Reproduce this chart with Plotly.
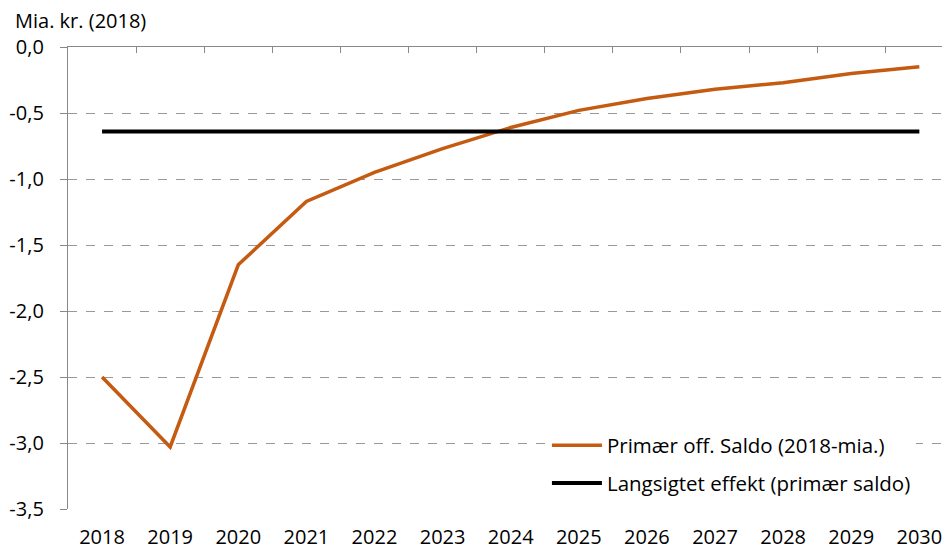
import plotly.graph_objects as go

years = [2018, 2019, 2020, 2021, 2022, 2023, 2024, 2025, 2026, 2027, 2028, 2029, 2030]
primaer_saldo = [-2.50, -3.03, -1.65, -1.17, -0.95, -0.77, -0.61, -0.48, -0.39, -0.32, -0.27, -0.20, -0.15]
langsigtet = [-0.64] * len(years)
y_ticks = [0.0, -0.5, -1.0, -1.5, -2.0, -2.5, -3.0, -3.5]
y_tick_labels = ["0,0", "-0,5", "-1,0", "-1,5", "-2,0", "-2,5", "-3,0", "-3,5"]
x_boundaries = [y + 0.5 for y in years[:-1]]

FONT = "Open Sans"
fig = go.Figure()
fig.add_trace(go.Scatter(x=years, y=primaer_saldo, mode="lines",
                         name="Primær off. Saldo (2018-mia.)", legendgroup="a",
                         line=dict(color="#C55A11", width=3.5)))
fig.add_trace(go.Scatter(x=years, y=langsigtet, mode="lines",
                         name="Langsigtet effekt (primær saldo)", legendgroup="b",
                         line=dict(color="#000000", width=4)))
# invisible trace for top axis
fig.add_trace(go.Scatter(x=years, y=langsigtet, xaxis="x2", mode="lines",
                         line=dict(width=0), showlegend=False, hoverinfo="skip"))

fig.update_layout(
    width=942, height=541,
    margin=dict(l=60, r=0, t=39, b=40),
    plot_bgcolor="white", paper_bgcolor="white",
    font=dict(family=FONT, size=20, color="#000000"),
    xaxis=dict(range=[2017.5, 2030.45], tickvals=years, ticktext=[str(y) for y in years],
               showgrid=False, showline=False, zeroline=False,
               ticks="outside", ticklen=10, tickcolor="rgba(0,0,0,0)",
               tickfont=dict(size=20), automargin=False),
    xaxis2=dict(range=[2017.5, 2030.45], overlaying="x", side="top", anchor="y",
                tickvals=x_boundaries, showticklabels=False, ticks="inside",
                ticklen=6, tickcolor="#888888", showline=True, linecolor="#888888",
                linewidth=1.3, showgrid=False, zeroline=False),
    yaxis=dict(range=[-3.5, 0.0], tickvals=y_ticks, ticktext=y_tick_labels,
               showgrid=True, gridcolor="#999999", griddash="dash", gridwidth=1,
               showline=True, linecolor="#888888", linewidth=1.3,
               ticks="outside", ticklen=7, tickcolor="#888888",
               ticklabelstandoff=12,
               zeroline=False, tickfont=dict(size=20), automargin=False),
    legend=dict(x=0.543, y=0.012, xanchor="left", yanchor="bottom",
                bgcolor="rgba(255,255,255,1)", font=dict(size=20.5),
                tracegroupgap=8, itemwidth=50),
    annotations=[dict(text="Mia. kr. (2018)", xref="paper", yref="paper",
                      x=0, xshift=-55, y=1, yshift=27, showarrow=False,
                      xanchor="left", yanchor="middle", font=dict(size=20))],
)
fig.write_html("out.html")
